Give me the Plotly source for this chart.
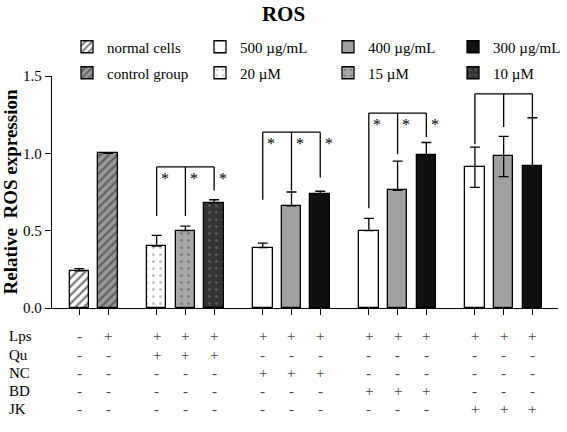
import plotly.graph_objects as go

# ---------------- data ----------------
bar_labels = ["normal cells", "control group", "20 µM", "15 µM", "10 µM",
              "NC 500", "NC 400", "NC 300", "BD 500", "BD 400", "BD 300",
              "JK 500", "JK 400", "JK 300"]
values = [0.24, 1.00, 0.40, 0.50, 0.68, 0.39, 0.66, 0.74, 0.50, 0.76, 0.99, 0.91, 0.98, 0.92]
err_up = [0.015, 0.0, 0.07, 0.03, 0.02, 0.03, 0.09, 0.015, 0.08, 0.19, 0.08, 0.13, 0.13, 0.31]
err_down = [0, 0, 0, 0, 0, 0, 0, 0, 0, 0, 0, 0.13, 0.13, 0]
group_sizes = [2, 3, 3, 3, 3]

# legend series -> bar indices
series_names = ["normal cells", "500 µg/mL", "400 µg/mL", "300 µg/mL",
                "control group", "20 µM", "15 µM", "10 µM"]
series_bars = [[0], [5, 8, 11], [6, 9, 12], [7, 10, 13], [1], [2], [3], [4]]

# significance brackets: bar indices, top level, drop-line ends, stars
bracket_bars = [[2, 3, 4], [5, 6, 7], [8, 9, 10], [11, 12, 13]]
bracket_top = [0.912, 1.137, 1.26, 1.385]
bracket_drop = [[0.595, 0.595, 0.76], [0.70, 0.76, 0.843], [0.645, 0.994, 1.105], [1.058, 1.17, 1.224]]
bracket_star = [True, True, True, False]

# treatment table
row_names = ["Lps", "Qu", "NC", "BD", "JK"]
row_marks = [
    ["-", "+", "+", "+", "+", "+", "+", "+", "+", "+", "+", "+", "+", "+"],
    ["-", "-", "+", "+", "+", "-", "-", "-", "-", "-", "-", "-", "-", "-"],
    ["-", "-", "-", "-", "-", "+", "+", "+", "-", "-", "-", "-", "-", "-"],
    ["-", "-", "-", "-", "-", "-", "-", "-", "+", "+", "+", "-", "-", "-"],
    ["-", "-", "-", "-", "-", "-", "-", "-", "-", "-", "-", "+", "+", "+"],
]

# ---------------- layout geometry ----------------
GAP = 1.69
xpos = []
cur = 0.0
for gi, n in enumerate(group_sizes):
    if gi > 0:
        cur += GAP - 1
    for k in range(n):
        xpos.append(cur)
        cur += 1

FONT = "Liberation Serif"
W, H = 567, 432
ML, MR, MT, MB = 52, 9, 75.5, 124
plot_h = H - MT - MB
plot_w = W - ML - MR

leg_text_x = [107, 240, 368, 493]   # px, text start of each legend column
leg_row_y = [47, 73]                # px, centre of each legend row

styles = {
    "normal cells": dict(color="white", pattern=dict(shape="/", fgcolor="black", bgcolor="white", size=6, solidity=0.4)),
    "control group": dict(color="#9a9a9a", pattern=dict(shape="/", fgcolor="#2a2a2a", bgcolor="#9a9a9a", size=6, solidity=0.4)),
    "20 µM": dict(color="white", pattern=dict(shape=".", fgcolor="#8a8a8a", bgcolor="white", size=7, solidity=0.15)),
    "15 µM": dict(color="#a8a8a8", pattern=dict(shape=".", fgcolor="#555555", bgcolor="#a8a8a8", size=7, solidity=0.15)),
    "10 µM": dict(color="#333333", pattern=dict(shape=".", fgcolor="#777777", bgcolor="#333333", size=7, solidity=0.15)),
    "500 µg/mL": dict(color="white"),
    "400 µg/mL": dict(color="#a0a0a0"),
    "300 µg/mL": dict(color="#111111"),
}

fig = go.Figure()
legends = {}
for si, (name, idxs) in enumerate(zip(series_names, series_bars)):
    st = styles[name]
    marker = dict(color=st["color"], line=dict(color="black", width=1.3))
    if "pattern" in st:
        marker["pattern"] = st["pattern"]
    lname = "legend" if si == 0 else f"legend{si + 1}"
    fig.add_trace(go.Bar(
        x=[xpos[i] for i in idxs], y=[values[i] for i in idxs], name=name,
        width=0.68, marker=marker,
        error_y=dict(type="data", symmetric=False,
                     array=[err_up[i] for i in idxs], arrayminus=[err_down[i] for i in idxs],
                     color="black", thickness=1.3, width=5),
        legend=lname,
    ))
    col, row = si % 4, si // 4
    legends[lname] = dict(orientation="h", xref="container", yref="container",
                          x=(leg_text_x[col] - 40) / W, y=1 - leg_row_y[row] / H,
                          xanchor="left", yanchor="middle", bgcolor="rgba(0,0,0,0)",
                          font=dict(family=FONT, size=15, color="black"))

shapes = []
annotations = []
for bars, top, drops, star in zip(bracket_bars, bracket_top, bracket_drop, bracket_star):
    xs = [xpos[i] for i in bars]
    shapes.append(dict(type="line", xref="x", yref="y", x0=xs[0], x1=xs[-1], y0=top, y1=top,
                       line=dict(color="black", width=1.3)))
    for x, d in zip(xs, drops):
        shapes.append(dict(type="line", xref="x", yref="y", x0=x, x1=x, y0=top, y1=d,
                           line=dict(color="black", width=1.3)))
        if star:
            annotations.append(dict(x=x + 0.3, y=top - 0.075, xref="x", yref="y", text="*",
                                    showarrow=False, font=dict(family=FONT, size=16, color="black")))

# table rows
row_y0 = 336.5
row_dy = 18.2
for r, (nm, marks) in enumerate(zip(row_names, row_marks)):
    ypx = row_y0 + r * row_dy
    yp = (H - MB - ypx) / plot_h
    annotations.append(dict(x=(7 - ML) / plot_w, y=yp, xref="paper", yref="paper", text=nm,
                            xanchor="left", yanchor="middle", showarrow=False,
                            font=dict(family=FONT, size=15, color="black")))
    for x, m in zip(xpos, marks):
        annotations.append(dict(x=x, y=yp, xref="x", yref="paper", text=m,
                                xanchor="center", yanchor="middle", showarrow=False,
                                font=dict(family=FONT, size=15, color="#444444")))

fig.update_layout(
    width=W, height=H, margin=dict(l=ML, r=MR, t=MT, b=MB, autoexpand=False),
    paper_bgcolor="white", plot_bgcolor="white",
    font=dict(family=FONT, color="black"),
    title=dict(text="<b>ROS</b>", x=0.5, xref="container", xanchor="center",
               y=1 - 14 / H, yref="container", yanchor="middle",
               font=dict(family=FONT, size=21, color="black")),
    showlegend=True, bargap=0,
    xaxis=dict(range=[-0.95, 16.65], showline=True, linecolor="black", linewidth=1.3,
               ticks="outside", ticklen=6, tickwidth=1.3, tickcolor="black",
               tickvals=xpos, showticklabels=False, showgrid=False, zeroline=False),
    yaxis=dict(range=[0, 1.5], dtick=0.5, tickformat=".1f", showline=True, linecolor="black",
               linewidth=1.3, ticks="outside", ticklen=6, tickwidth=1.3, tickcolor="black",
               showgrid=False, zeroline=False,
               tickfont=dict(family=FONT, size=15, color="black"),
               title=dict(text="<b>Relative  ROS expression</b>", standoff=5,
                          font=dict(family=FONT, size=19, color="black"))),
    shapes=shapes, annotations=annotations,
    **legends,
)

fig.write_html("out.html", config={"displayModeBar": False},
               post_script="document.body.style.margin='0px';")
